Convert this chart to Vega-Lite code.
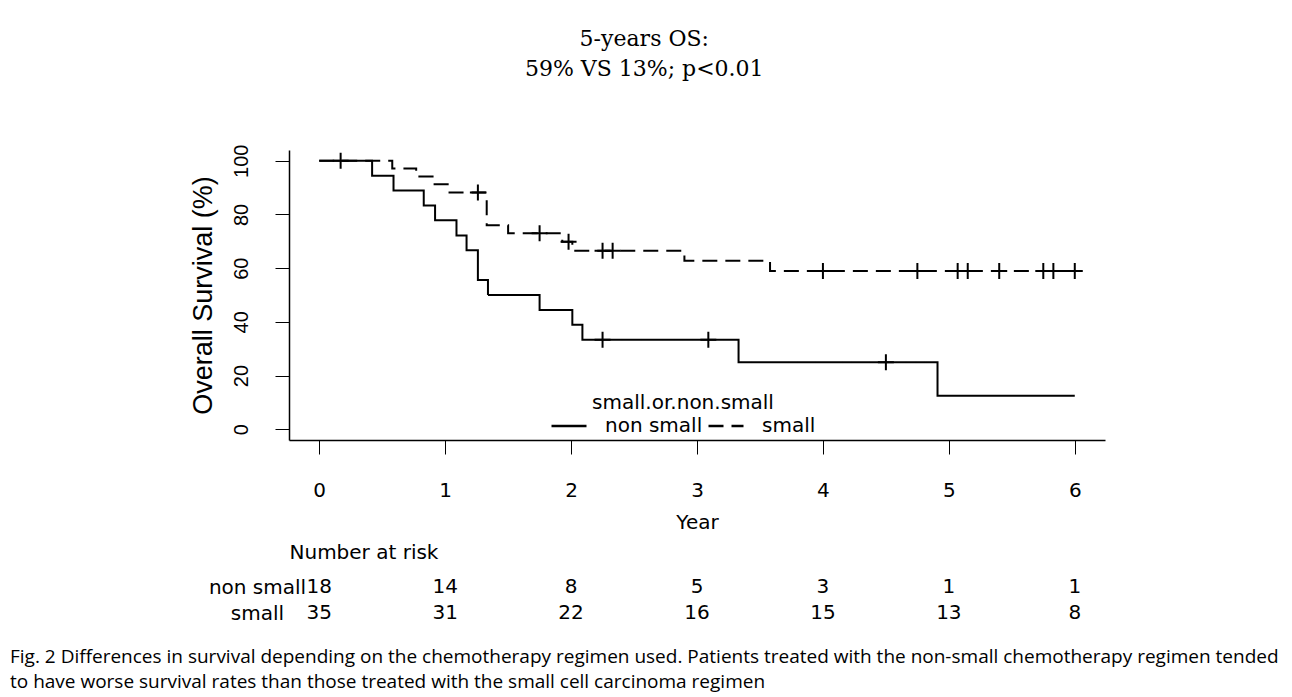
{
  "$schema": "https://vega.github.io/schema/vega-lite/v6.json",
  "background": "white",
  "padding": {"left": 10, "top": 28, "right": 10, "bottom": 5},
  "config": {
    "view": {"stroke": null},
    "font": "DejaVu Sans",
    "axis": {"labelColor": "black", "titleColor": "black", "domainColor": "black", "tickColor": "black", "grid": false}
  },
  "title": {
    "text": ["5-years OS:", "59% VS 13%; p<0.01"],
    "font": "DejaVu Serif",
    "fontSize": 22,
    "fontWeight": "normal",
    "lineHeight": 30,
    "color": "black",
    "anchor": "middle",
    "offset": 63
  },
  "datasets": {
    "curves": [
      {"group": "non small", "t": 0, "s": 100},
      {"group": "non small", "t": 0.42, "s": 94.4},
      {"group": "non small", "t": 0.59, "s": 88.9},
      {"group": "non small", "t": 0.83, "s": 83.3},
      {"group": "non small", "t": 0.92, "s": 77.8},
      {"group": "non small", "t": 1.09, "s": 72.2},
      {"group": "non small", "t": 1.17, "s": 66.7},
      {"group": "non small", "t": 1.26, "s": 55.6},
      {"group": "non small", "t": 1.34, "s": 50.0},
      {"group": "non small", "t": 1.75, "s": 44.4},
      {"group": "non small", "t": 2.01, "s": 38.9},
      {"group": "non small", "t": 2.09, "s": 33.3},
      {"group": "non small", "t": 3.33, "s": 25.0},
      {"group": "non small", "t": 4.91, "s": 12.5},
      {"group": "non small", "t": 6.0, "s": 12.5},
      {"group": "small", "t": 0, "s": 100},
      {"group": "small", "t": 0.58, "s": 97.1},
      {"group": "small", "t": 0.77, "s": 94.1},
      {"group": "small", "t": 0.90, "s": 91.2},
      {"group": "small", "t": 1.02, "s": 88.2},
      {"group": "small", "t": 1.33, "s": 76.0},
      {"group": "small", "t": 1.50, "s": 73.0},
      {"group": "small", "t": 1.93, "s": 69.8},
      {"group": "small", "t": 2.01, "s": 66.5},
      {"group": "small", "t": 2.90, "s": 62.8},
      {"group": "small", "t": 3.58, "s": 58.9},
      {"group": "small", "t": 6.0, "s": 58.9}
    ],
    "censors": [
      {"group": "small", "t": 0.17, "s": 100},
      {"group": "small", "t": 1.26, "s": 88.2},
      {"group": "small", "t": 1.75, "s": 73.0},
      {"group": "small", "t": 1.98, "s": 69.8},
      {"group": "small", "t": 2.25, "s": 66.5},
      {"group": "small", "t": 2.33, "s": 66.5},
      {"group": "small", "t": 4.0, "s": 58.9},
      {"group": "small", "t": 4.75, "s": 58.9},
      {"group": "small", "t": 5.07, "s": 58.9},
      {"group": "small", "t": 5.15, "s": 58.9},
      {"group": "small", "t": 5.4, "s": 58.9},
      {"group": "small", "t": 5.75, "s": 58.9},
      {"group": "small", "t": 5.83, "s": 58.9},
      {"group": "small", "t": 6.0, "s": 58.9},
      {"group": "non small", "t": 2.25, "s": 33.3},
      {"group": "non small", "t": 3.09, "s": 33.3},
      {"group": "non small", "t": 4.5, "s": 25.0}
    ],
    "risk": [
      {"group": "non small", "t": 0, "n": 18},
      {"group": "non small", "t": 1, "n": 14},
      {"group": "non small", "t": 2, "n": 8},
      {"group": "non small", "t": 3, "n": 5},
      {"group": "non small", "t": 4, "n": 3},
      {"group": "non small", "t": 5, "n": 1},
      {"group": "non small", "t": 6, "n": 1},
      {"group": "small", "t": 0, "n": 35},
      {"group": "small", "t": 1, "n": 31},
      {"group": "small", "t": 2, "n": 22},
      {"group": "small", "t": 3, "n": 16},
      {"group": "small", "t": 4, "n": 15},
      {"group": "small", "t": 5, "n": 13},
      {"group": "small", "t": 6, "n": 8}
    ]
  },
  "spacing": 10,
  "vconcat": [
    {
      "width": 816,
      "height": 290,
      "layer": [
        {
          "data": {"name": "curves"},
          "mark": {"type": "line", "interpolate": "step-after", "strokeWidth": 2, "color": "black"},
          "encoding": {
            "x": {
              "field": "t", "type": "quantitative",
              "scale": {"domain": [-0.24, 6.24], "nice": false, "zero": false},
              "axis": {
                "values": [0, 1, 2, 3, 4, 5, 6], "format": "d", "title": "Year",
                "tickSize": 14, "tickWidth": 1, "domainWidth": 1.5,
                "labelFont": "DejaVu Sans", "labelFontSize": 20, "labelPadding": 26,
                "titleFont": "DejaVu Sans", "titleFontSize": 20, "titleFontWeight": "normal", "titlePadding": 12
              }
            },
            "y": {
              "field": "s", "type": "quantitative",
              "scale": {"domain": [-4, 104], "nice": false, "zero": false},
              "axis": {
                "values": [0, 20, 40, 60, 80, 100], "title": "Overall Survival (%)",
                "tickSize": 14, "tickWidth": 1, "domainWidth": 1.5,
                "labelAngle": -90, "labelAlign": "center", "labelBaseline": "bottom",
                "labelFont": "Liberation Sans", "labelFontSize": 20, "labelPadding": 24,
                "titleFont": "Liberation Sans", "titleFontSize": 27, "titleFontWeight": "normal", "titlePadding": 14
              }
            },
            "strokeDash": {
              "field": "group", "type": "nominal",
              "scale": {"domain": ["non small", "small"], "range": [[1, 0], [15, 8]]},
              "legend": {
                "title": "small.or.non.small",
                "orient": "none",
                "legendX": 261,
                "legendY": 243,
                "direction": "horizontal",
                "titleFont": "DejaVu Sans", "titleFontSize": 20, "titleFontWeight": "normal", "titleColor": "black",
                "titleAnchor": "middle", "titleAlign": "center", "titlePadding": -6, "titleLimit": 400,
                "labelFont": "DejaVu Sans", "labelFontSize": 20, "labelColor": "black", "labelLimit": 300,
                "symbolType": "stroke", "symbolSize": 1225, "symbolStrokeWidth": 2.5, "symbolStrokeColor": "black",
                "labelOffset": 17, "columnPadding": 0
              }
            }
          }
        },
        {
          "data": {"name": "censors"},
          "mark": {"type": "point", "shape": "M-1,0L1,0M0,-1L0,1", "filled": false, "size": 256, "strokeWidth": 2, "color": "black", "opacity": 1},
          "encoding": {
            "x": {"field": "t", "type": "quantitative"},
            "y": {"field": "s", "type": "quantitative"}
          }
        }
      ]
    },
    {
      "width": 816,
      "height": 52,
      "data": {"name": "risk"},
      "title": {
        "text": [
          "Fig. 2 Differences in survival depending on the chemotherapy regimen used. Patients treated with the non-small chemotherapy regimen tended",
          "to have worse survival rates than those treated with the small cell carcinoma regimen"
        ],
        "orient": "bottom",
        "anchor": "start",
        "frame": "group",
        "dx": -279,
        "font": "Open Sans",
        "fontSize": 19,
        "fontWeight": "normal",
        "lineHeight": 25,
        "color": "black",
        "offset": 22
      },
      "mark": {"type": "text", "font": "DejaVu Sans", "fontSize": 20, "color": "black"},
      "encoding": {
        "x": {
          "field": "t", "type": "quantitative",
          "scale": {"domain": [-0.24, 6.24], "nice": false, "zero": false},
          "axis": {
            "orient": "top", "labels": false, "ticks": false, "domain": false,
            "title": "Number at risk", "titleAnchor": "start", "titleAlign": "left",
            "titleFont": "DejaVu Sans", "titleFontSize": 20, "titleFontWeight": "normal", "titlePadding": 12
          }
        },
        "y": {
          "field": "group", "type": "nominal",
          "scale": {"type": "point", "domain": ["non small", "small"], "padding": 0.5},
          "axis": {
            "title": null, "domain": false, "ticks": false,
            "labelAlign": "center", "labelPadding": 32,
            "labelFont": "DejaVu Sans", "labelFontSize": 20
          }
        },
        "text": {"field": "n", "type": "quantitative"}
      }
    }
  ]
}
